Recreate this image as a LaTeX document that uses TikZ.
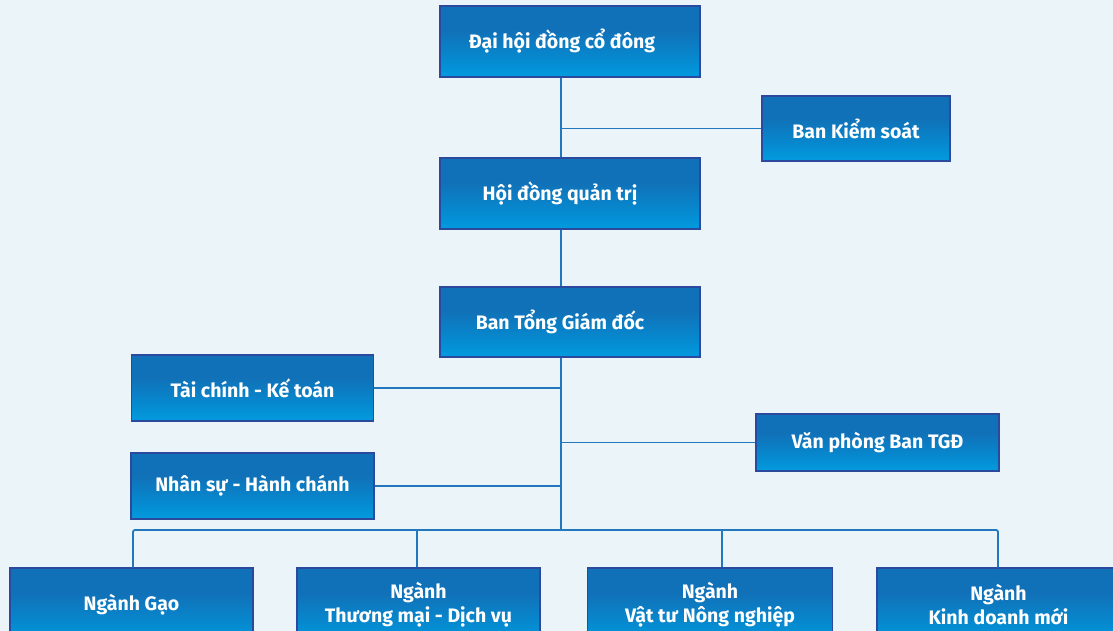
\documentclass[tikz,border=0pt]{standalone}
\usepackage{fontspec}
\setmainfont{Fira Sans}
\usetikzlibrary{calc}
\definecolor{bgc}{HTML}{EBF4F8}
\definecolor{topc}{HTML}{1171B8}
\definecolor{midc}{HTML}{0689CF}
\definecolor{botc}{HTML}{00ABEB}
\definecolor{edgec}{HTML}{2B4A9E}
\definecolor{linec}{HTML}{2178BF}
\pgfdeclareverticalshading{boxshade}{100bp}{color(0bp)=(botc); color(14bp)=(botc); color(38bp)=(midc); color(58bp)=(topc); color(100bp)=(topc)}
\tikzset{
  orgbox/.style={draw=edgec, line width=1.1pt, shading=boxshade, text=white,
    font=\bfseries\fontsize{19.5}{24}\selectfont, align=center, inner sep=0pt,
    minimum height=#1},
  orgbox/.default=66pt,
  conn/.style={draw=linec, line width=1.8pt}
}
\begin{document}
\begin{tikzpicture}[x=1pt,y=-1pt]
\fill[bgc] (0,0) rectangle (1113,631);
\clip (0,0) rectangle (1113,631);
\coordinate (t) at (561,0);
\node[orgbox=71pt, minimum width=260pt] (dh) at (570,41.5) {\hspace*{-16pt}\raisebox{-2pt}{Đại hội đồng cổ đông}};
\node[orgbox=65pt, minimum width=188pt] (bks) at (856,128.5) {\raisebox{-1.5pt}{Ban Kiểm soát}};
\node[orgbox=71pt, minimum width=260pt] (hd) at (570,193.5) {\hspace*{-20pt}\raisebox{-2pt}{Hội đồng quản trị}};
\node[orgbox=70pt, minimum width=260pt] (bg) at (570,322) {\hspace*{-20pt}\raisebox{-2pt}{Ban Tổng Giám đốc}};
\node[orgbox=66pt, minimum width=242pt] (tc) at (252.5,388) {\raisebox{-2pt}{Tài chính - Kế toán}};
\node[orgbox=66pt, minimum width=243pt] (ns) at (252.5,486) {Nhân sự - Hành chánh};
\node[orgbox=57pt, minimum width=243pt] (vp) at (877.5,442.5) {Văn phòng Ban TGĐ};
\node[orgbox=74pt, minimum width=243pt] (g1) at (131.5,605) {Ngành Gạo};
\node[orgbox=74pt, minimum width=243pt] (g2) at (418.5,605) {Ngành\\Thương mại - Dịch vụ};
\node[orgbox=74pt, minimum width=245pt] (g3) at (710,605) {Ngành\\Vật tư Nông nghiệp};
\node[orgbox=74pt, minimum width=243pt] (g4) at (998.5,605) {Ngành\\Kinh doanh mới};
\coordinate (b1) at (133,530);
\coordinate (b2) at (417,530);
\coordinate (b3) at (722,530);
\coordinate (b4) at (998,530);
\draw[conn] (dh.south -| t) -- (hd.north -| t);
\draw[conn] (bks.west) -- (bks.west -| t);
\draw[conn] (hd.south -| t) -- (bg.north -| t);
\draw[conn] (bg.south -| t) -- (t |- b1);
\draw[conn] (tc.east) -- (tc.east -| t);
\draw[conn] (ns.east) -- (ns.east -| t);
\draw[conn] (vp.west) -- (vp.west -| t);
\draw[conn, rounded corners=2pt] (g1.north -| b1) -- (b1) -- (b4) -- (g4.north -| b4);
\draw[conn] (b2) -- (g2.north -| b2);
\draw[conn] (b3) -- (g3.north -| b3);
\end{tikzpicture}
\end{document}
